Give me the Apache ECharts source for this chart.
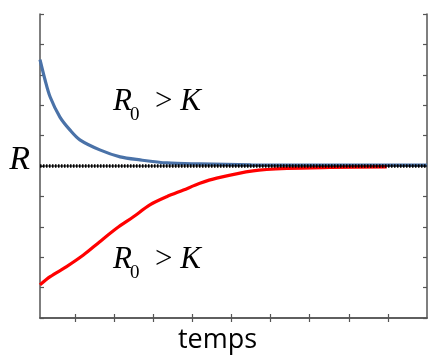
<!DOCTYPE html>
<html><head><meta charset="utf-8">
<script src="https://cdn.jsdelivr.net/npm/echarts@6/dist/echarts.min.js"></script>
<style>html,body{margin:0;padding:0;background:#fff}#c{width:446px;height:358px}</style>
</head><body><div id="c"></div>
<script>
// time (x) and R values
const blueT = [0.1, 0.23, 0.36, 0.61, 0.87, 1.12, 1.63, 2.15, 2.66, 3.35, 4.19, 5.5, 7.0, 10];
const blueR = [8.5, 7.83, 7.27, 6.61, 6.18, 5.86, 5.53, 5.30, 5.20, 5.10, 5.07, 5.04, 5.03, 5.03];
const redT = [0.1, 0.36, 0.78, 1.21, 1.63, 2.06, 2.49, 2.91, 3.34, 3.77, 4.19, 4.62, 5.55, 6.42, 7.52, 8.97];
const redR = [1.09, 1.36, 1.69, 2.07, 2.51, 2.95, 3.33, 3.72, 3.99, 4.21, 4.43, 4.60, 4.84, 4.92, 4.95, 4.97];
const eqT = [0.1, 10];
const eqR = [5, 5];
const xTicks = [1, 2, 3, 4, 5, 6, 7, 8, 9];
const yName = 'R';
const xName = 'temps';
const labelTop = ['R', '0', 'K'];

const zip = (a, b) => a.map((v, i) => [v, b[i]]);
const chart = echarts.init(document.getElementById('c'));
const axLine = {show: true, lineStyle: {color: '#555', width: 1.5}};
const tick = {show: true, inside: true, length: 4, lineStyle: {color: '#555', width: 1.2}};
function richLabel(parts) {
  return {
    text: '{r|' + parts[0] + '}{s|' + parts[1] + '}{g|  > }{r|' + parts[2] + '}',
    rich: {
      r: {fontFamily: 'Liberation Serif', fontStyle: 'italic', fontSize: 31, fill: '#000', verticalAlign: 'bottom'},
      s: {fontFamily: 'Liberation Serif', fontSize: 19, fill: '#000', padding: [0, 0, -8, -2], verticalAlign: 'bottom'},
      g: {fontFamily: 'Liberation Serif', fontSize: 31, fill: '#000', verticalAlign: 'bottom'}
    }
  };
}
chart.setOption({
  animation: false,
  grid: {left: 40, right: 19, top: 14, bottom: 40, outerBoundsMode: 'none', containLabel: false},
  xAxis: [
    {type: 'value', min: 0.1, max: 10, axisLine: axLine, axisTick: Object.assign({customValues: xTicks}, tick),
     axisLabel: {show: false}, splitLine: {show: false},
     name: xName, nameLocation: 'middle', nameGap: 9,
     nameTextStyle: {fontFamily: 'Open Sans', fontSize: 27, color: '#000', padding: [0, 32, 0, 0]}},
    {type: 'value', position: 'top', min: 0.1, max: 10, axisLine: axLine, axisTick: Object.assign({customValues: xTicks}, tick),
     axisLabel: {show: false}, splitLine: {show: false}}
  ],
  yAxis: [
    {type: 'value', min: 0, max: 10, interval: 1, axisLine: axLine, axisTick: tick,
     axisLabel: {show: false}, splitLine: {show: false},
     name: '{a|' + yName + '}', nameLocation: 'middle', nameRotate: 0, nameGap: 10,
     nameTextStyle: {rich: {a: {fontFamily: 'Liberation Serif', fontStyle: 'italic', fontSize: 34, color: '#000', padding: [0, 0, 12, 0]}}}},
    {type: 'value', position: 'right', min: 0, max: 10, interval: 1, axisLine: axLine, axisTick: tick,
     axisLabel: {show: false}, splitLine: {show: false}}
  ],
  series: [
    {type: 'line', data: zip(blueT, blueR), smooth: 0.3, showSymbol: false, lineStyle: {color: '#4a72a8', width: 3.2}},
    {type: 'line', data: zip(redT, redR), smooth: 0.3, showSymbol: false, lineStyle: {color: '#ff0000', width: 3.2}, z: 3},
    {type: 'line', data: zip(eqT, eqR), showSymbol: false, lineStyle: {color: '#000', width: 1}, z: 4},
    {type: 'line', data: zip(eqT, eqR), showSymbol: false, lineStyle: {color: '#000', width: 3.5, type: [1.5, 1.5]}, z: 4}
  ],
  graphic: [
    {type: 'text', left: 113, top: 86, style: richLabel(labelTop)},
    {type: 'text', left: 113, top: 244, style: richLabel(labelTop)}
  ]
});
</script></body></html>
